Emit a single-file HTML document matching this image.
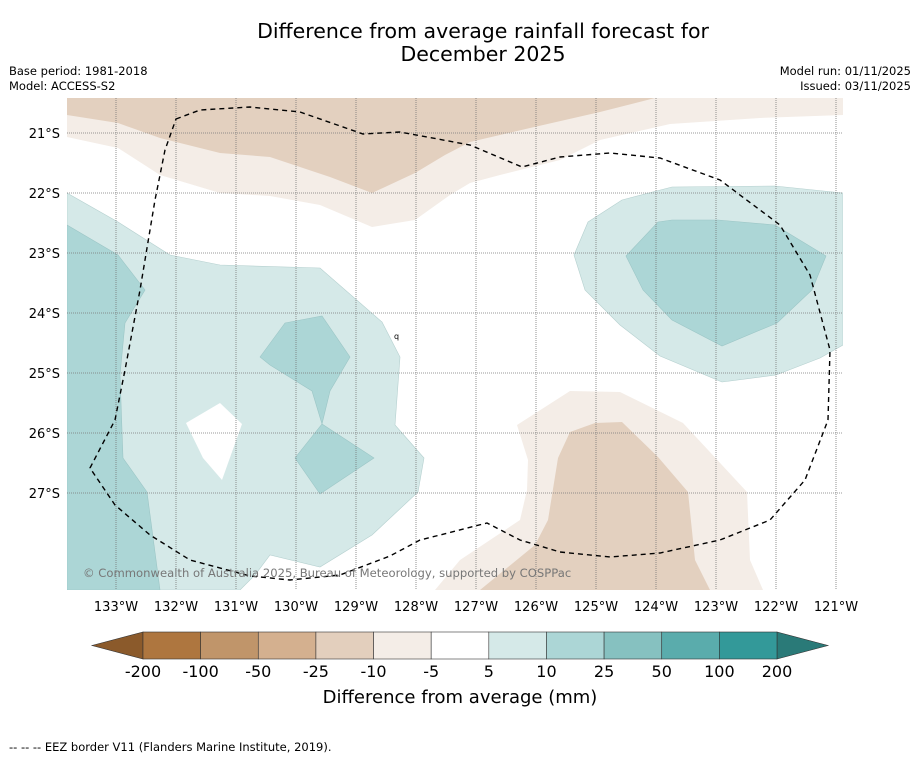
<!DOCTYPE html>
<html><head><meta charset="utf-8"><style>
body{margin:0;background:#fff;}
svg{display:block;font-family:"DejaVu Sans","Liberation Sans",sans-serif;}
</style></head><body>
<svg id="fig" width="919" height="758" viewBox="0 0 919 758">
<rect width="919" height="758" fill="#fff"/>
<text x="483" y="38" font-size="20.5" text-anchor="middle">Difference from average rainfall forecast for</text>
<text x="483" y="61" font-size="20.5" text-anchor="middle">December 2025</text>
<text x="9" y="75" font-size="11.5">Base period: 1981-2018</text>
<text x="9" y="90" font-size="11.5">Model: ACCESS-S2</text>
<text x="911" y="75" font-size="11.5" text-anchor="end">Model run: 01/11/2025</text>
<text x="911" y="90" font-size="11.5" text-anchor="end">Issued: 03/11/2025</text>
<defs><clipPath id="mapclip"><rect x="67" y="98" width="776" height="492"/></clipPath></defs>
<g clip-path="url(#mapclip)">
<polygon fill="#f4ede7" points="67,98 843,98 843,115 760,118 670,124 600,140 560,160 500,175 470,183 450,195 415,220 372,227 320,205 270,196 220,193 160,175 118,148 67,137"/>
<polygon fill="#e3d0bf" points="67,98 655,98 600,112 530,128 470,142 445,155 415,173 372,193 330,177 270,157 220,153 160,138 118,123 67,115"/>
<polygon fill="#d5e9e8" stroke="#b5d0cf" stroke-width="0.6" points="67,193 118,222 170,255 220,265 320,268 382,322 400,357 395,425 424,458 418,492 372,535 320,567 270,555 255,575 240,590 67,590"/>
<polygon fill="#acd6d6" stroke="#9cc6c6" stroke-width="0.6" points="67,225 118,255 145,290 125,323 120,375 123,458 147,492 160,590 67,590"/>
<polygon fill="#fff" points="186,423 220,403 242,424 222,480 203,458"/>
<polygon fill="#acd6d6" stroke="#9cc6c6" stroke-width="0.6" points="260,357 285,323 322,316 350,357 330,391 322,424 312,391 270,365"/>
<polygon fill="#acd6d6" stroke="#9cc6c6" stroke-width="0.6" points="322,424 374,458 320,494 295,458"/>
<polygon fill="#d5e9e8" stroke="#b5d0cf" stroke-width="0.6" points="574,255 588,222 622,200 672,187 775,186 843,193 843,345 820,358 776,375 722,382 660,356 620,325 585,290"/>
<polygon fill="#acd6d6" stroke="#9cc6c6" stroke-width="0.6" points="626,256 658,222 672,220 718,220 775,225 826,256 812,290 777,323 722,346 672,320 643,290"/>
<polygon fill="#f4ede7" points="517,425 570,391 620,392 683,423 747,492 750,560 763,590 435,590 460,560 520,520 527,490 528,460"/>
<polygon fill="#e3d0bf" points="570,432 595,423 622,422 658,457 688,492 695,560 710,590 480,590 535,545 548,520 558,458"/>
<g id="grid"></g>
<path fill="none" stroke="#000" stroke-width="1.4" stroke-dasharray="5,4" d="M176,119 L200,110 L250,107 L300,112 L363,134 L400,132 L470,145 L522,167 L560,157 L610,153 L660,158 L720,180 L780,225 L810,275 L830,350 L828,420 L805,480 L770,520 L720,540 L660,553 L610,557 L560,552 L520,540 L487,523 L440,535 L420,540 L390,556 L340,575 L290,580 L250,576 L190,560 L150,535 L115,505 L90,468 L115,420 L125,370 L140,290 L155,200 L165,150 Z"/>
<text x="394" y="339" font-size="8">q</text>
<text x="83" y="577" font-size="11.6" fill="#777">© Commonwealth of Australia 2025, Bureau of Meteorology, supported by COSPPac</text>
</g>
<g id="ticks"></g>
<g id="cbar"></g>
<text x="460" y="703" font-size="18" text-anchor="middle">Difference from average (mm)</text>
<text x="9" y="751" font-size="11.5">--  --  -- EEZ border V11 (Flanders Marine Institute, 2019).</text>
</svg>
<script>
const lonTicks=[133,132,131,130,129,128,127,126,125,124,123,122,121];
const latTicks=[21,22,23,24,25,26,27];
const cbLevels=["-200","-100","-50","-25","-10","-5","5","10","25","50","100","200"];
const cbColors=["#ae763f","#c0956a","#d4b08f","#e3cfbd","#f4ede7","#ffffff","#d5e9e8","#acd6d6","#86c1c0","#5aacac","#339999"];
const NS="http://www.w3.org/2000/svg";
const xLon=l=>116+(133-l)*60, yLat=l=>133+(l-21)*60;
function mk(t,a,p){const e=document.createElementNS(NS,t);for(const k in a)e.setAttribute(k,a[k]);p.appendChild(e);return e;}
const g=document.getElementById('grid'),tk=document.getElementById('ticks'),cb=document.getElementById('cbar');
lonTicks.forEach(l=>{const x=xLon(l);
 const ln=mk('line',{x1:x,x2:x,y1:98,y2:590,stroke:'#777','stroke-width':0.8,'stroke-dasharray':'1,1'},g);
 
 
 const t=mk('text',{x:x,y:611,'font-size':13,'text-anchor':'middle'},tk);t.textContent=l+'°W';
 
 });
latTicks.forEach(l=>{const y=yLat(l);
 const ln=mk('line',{x1:67,x2:843,y1:y,y2:y,stroke:'#777','stroke-width':0.8,'stroke-dasharray':'1,1'},g);
 
 
 const t=mk('text',{x:60,y:y+5,'font-size':13,'text-anchor':'end'},tk);t.textContent=l+'°S';
 
 });
const x0=143,x1=777,y0=632,y1=659,w=(x1-x0)/cbColors.length;
const lt=mk('polygon',{points:`${x0},${y0} ${x0},${y1} 92,${(y0+y1)/2}`,fill:'#8b5a2b',stroke:'#333','stroke-width':0.6},cb);


const rt=mk('polygon',{points:`${x1},${y0} ${x1},${y1} 828,${(y0+y1)/2}`,fill:'#2a7a78',stroke:'#333','stroke-width':0.6},cb);


cbColors.forEach((c,i)=>{const r=mk('rect',{x:x0+i*w,y:y0,width:w,height:y1-y0,fill:c,stroke:'#333','stroke-width':0.6},cb);
 
 });
cbLevels.forEach((v,i)=>{const t=mk('text',{x:x0+i*w,y:677,'font-size':16,'text-anchor':'middle'},cb);t.textContent=v;
 
 });
</script>
</body></html>
